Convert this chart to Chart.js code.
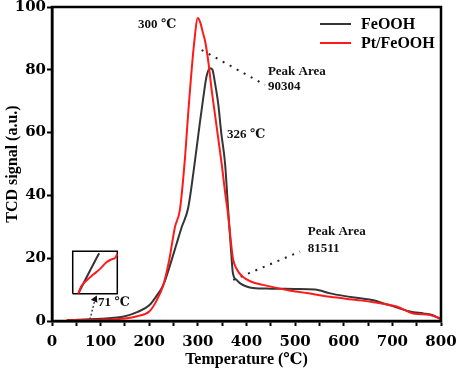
<!DOCTYPE html>
<html>
<head>
<meta charset="utf-8">
<script src="https://cdn.jsdelivr.net/npm/chart.js@4"></script>
<style>
html,body{margin:0;padding:0;background:#fff;}
#wrap{width:457px;height:372px;position:relative;}
</style>
</head>
<body>
<div id="wrap"><canvas id="c" width="457" height="372"></canvas></div>
<script>
// ---- data (temperature in ℃, TCD signal in a.u.) ----
const tempFeOOH = [50,100,150,175,200,215,229,246,257,267,280,294,304,311,318,325,330,335,342,348,356,362,368,372,380,387,400,413,450,500,541,572,600,630,661,684,710,736,764,780,800];
const sigFeOOH  = [0.4,0.7,1.5,2.8,5,8,11.5,19.4,25,30,36,51,63,71,78,80.5,80,76,69,60,50,36,23,15.3,13,12,11,10.5,10.3,10.2,10.0,8.8,8.0,7.3,6.6,5.5,4.3,3.0,2.4,2.0,0.6];

const tempPt = [30,60,100,150,175,200,215,229,241,253,263,273,281,292,300,305,310,315,322,328,335,342,349,356,362,366,372,380,393,410,434,483,524,572,627,661,709,743,777,800];
const sigPt  = [0.3,0.3,0.4,0.8,1.5,3,6.5,11.5,19.4,30,35.4,51,68,88,96.5,95,92,89,82,74,66,58,50,41,34,28,20,16.5,14,12.5,11.5,9.9,8.9,7.7,6.7,6.0,4.6,2.4,1.9,0.8];

// inset (zoomed start of reduction) drawn in data coordinates
const insetBoxT = [42.6,134.3,134.3,42.6,42.6];
const insetBoxY = [8.7,8.7,22.2,22.2,8.7];
const insetBlackT = [55,68,82,97];
const insetBlackY = [9.0,13.0,17.2,21.6];
const insetRedT = [54,60,71,85,99,112,122,130,134];
const insetRedY = [8.7,11,12.9,14.8,16.6,18.7,19.6,20.1,21.3];

// annotation leader lines
const arrowT = [78,88.4];
const arrowY = [0.5,6.9];
const lead1T = [307.8,438];
const lead1Y = [86.3,75.2];
const lead2T = [372.8,510];
const lead2Y = [13.1,22.1];

// annotation texts [text, temperature, signal]
const labels = [
  ['300 ℃',177,94.3],
  ['Peak Area',444,79.3],
  ['90304',444,74.5],
  ['326 ℃',360,59.2],
  ['Peak Area',526,28.3],
  ['81511',526,23.2],
  ['71 ℃',94.6,5.7]
];

const xTicks = {min:0,max:800,step:50};
const yTicks = {min:0,max:100,step:20};

const pts = (xs,ys)=>xs.map((x,i)=>({x:x,y:ys[i]}));
const SERIF = '"Liberation Serif","Times New Roman","DejaVu Serif",serif';

const extras = {
  id:'extras',
  afterDatasetsDraw(chart){
    const ctx = chart.ctx, ca = chart.chartArea;
    const xs = chart.scales.x, ys = chart.scales.y;
    ctx.save();
    // frame
    ctx.strokeStyle = '#000';
    ctx.lineWidth = 2.5;
    ctx.strokeRect(ca.left, ca.top, ca.right-ca.left, ca.bottom-ca.top);
    // annotation texts
    ctx.fillStyle = '#111';
    ctx.font = 'bold 13px ' + SERIF;
    ctx.textBaseline = 'middle';
    ctx.textAlign = 'left';
    labels.forEach(l=>{
      ctx.fillText(l[0], xs.getPixelForValue(l[1]), ys.getPixelForValue(l[2]));
    });
    // legend
    ctx.font = 'bold 16px ' + SERIF;
    let ly = ca.top + 17;
    chart.data.datasets.forEach(ds=>{
      if(!ds.inLegend) return;
      ctx.strokeStyle = ds.borderColor;
      ctx.lineWidth = 2;
      ctx.beginPath();
      ctx.moveTo(320, ly); ctx.lineTo(351, ly);
      ctx.stroke();
      ctx.fillStyle = '#000';
      ctx.fillText(ds.label, 361, ly+1);
      ly += 19;
    });
    ctx.restore();
  }
};

const tickFont = {family:'"DejaVu Serif",serif', size:15, weight:'bold'};

new Chart(document.getElementById('c'), {
  type:'line',
  data:{
    datasets:[
      {label:'FeOOH', inLegend:true, data:pts(tempFeOOH,sigFeOOH), borderColor:'#353535', borderWidth:2, pointRadius:0, cubicInterpolationMode:'monotone', order:1},
      {label:'Pt/FeOOH', inLegend:true, data:pts(tempPt,sigPt), borderColor:'#ff1a1a', borderWidth:2, pointRadius:0, cubicInterpolationMode:'monotone', order:0},
      {label:'box', data:pts(insetBoxT,insetBoxY), borderColor:'#000', borderWidth:1.5, pointRadius:0, tension:0, order:2},
      {label:'insetBlack', data:pts(insetBlackT,insetBlackY), borderColor:'#353535', borderWidth:2, pointRadius:0, cubicInterpolationMode:'monotone', order:2},
      {label:'insetRed', data:pts(insetRedT,insetRedY), borderColor:'#ff1a1a', borderWidth:2, pointRadius:0, cubicInterpolationMode:'monotone', order:1},
      {label:'arrow', data:pts(arrowT,arrowY), borderColor:'#222', borderWidth:1.2, borderDash:[2,2], pointRadius:[0,3], pointStyle:'triangle', pointRotation:[0,25], pointBackgroundColor:'#111', pointBorderColor:'#111', tension:0, order:2},
      {label:'lead1', data:pts(lead1T,lead1Y), borderColor:'#222', borderWidth:2, borderDash:[2,6], pointRadius:0, tension:0, order:2},
      {label:'lead2', data:pts(lead2T,lead2Y), borderColor:'#222', borderWidth:2, borderDash:[2,6], pointRadius:0, tension:0, order:2}
    ]
  },
  options:{
    responsive:false,
    animation:false,
    layout:{padding:{top:7,right:16,left:0,bottom:0}},
    plugins:{legend:{display:false}, tooltip:{enabled:false}},
    scales:{
      x:{
        type:'linear', min:xTicks.min, max:xTicks.max,
        afterFit(s){ s.height = 51; s.paddingLeft = 0; s.paddingRight = 0; },
        ticks:{stepSize:xTicks.step, autoSkip:false, maxRotation:0, color:'#000', font:tickFont, padding:7,
          callback:v=> (v%100===0 ? v : '')},
        grid:{display:true, drawOnChartArea:false, drawTicks:true, tickLength:5, tickWidth:2, tickColor:'#000'},
        border:{display:true, color:'#000', width:2.5},
        title:{display:true, text:'Temperature (℃)', color:'#000', font:{family:SERIF, size:16, weight:'bold'}, padding:{top:0,bottom:3}}
      },
      y:{
        min:yTicks.min, max:yTicks.max,
        afterFit(s){ s.width = 52; s.paddingTop = 0; s.paddingBottom = 0; },
        ticks:{stepSize:yTicks.step, color:'#000', font:tickFont, padding:1},
        grid:{display:true, drawOnChartArea:false, drawTicks:true, tickLength:5, tickWidth:2, tickColor:'#000'},
        border:{display:true, color:'#000', width:2.5},
        title:{display:true, text:'TCD signal (a.u.)', color:'#000', font:{family:SERIF, size:16, weight:'bold'}, padding:{top:3,bottom:0}}
      }
    }
  },
  plugins:[extras]
});
</script>
</body>
</html>
